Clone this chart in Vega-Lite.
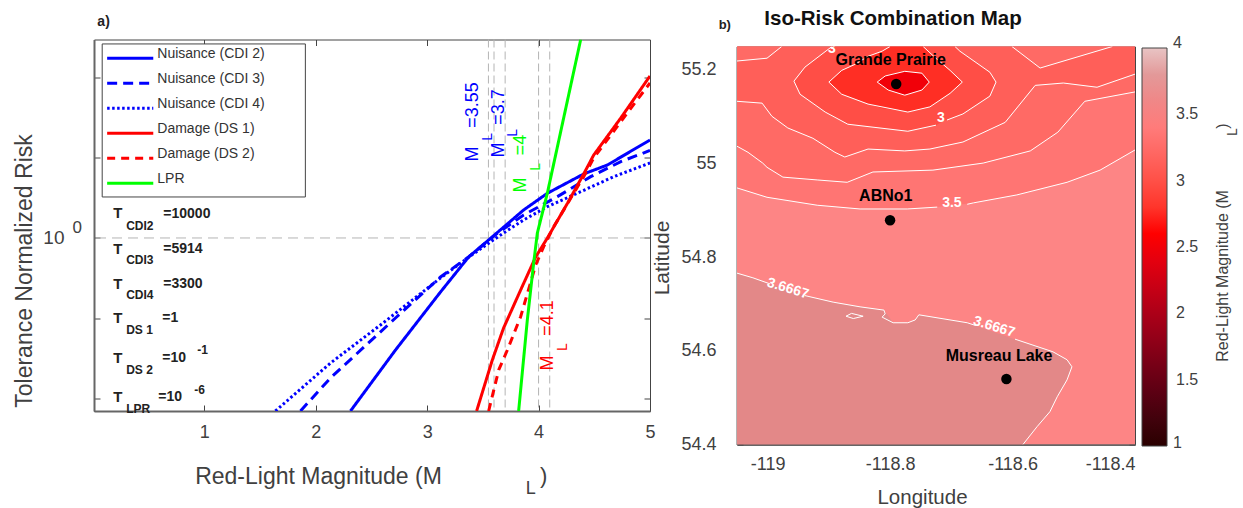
{
"$schema":"https://vega.github.io/schema/vega-lite/v6.json",
"autosize":{"type":"none"},
"padding":{"left":94,"top":39.5,"right":1149,"bottom":468.5},
"background":"white",
"config":{"font":"Liberation Sans","view":{"stroke":"#444444"}},
"bounds":"flush",
"spacing":87,
"hconcat":[
{"width":556,"height":371.5,
 "layer":[
 {"layer":[
  {"data":{"values":[{"m":3.55},{"m":3.6},{"m":3.7},{"m":4},{"m":4.1}]},
   "mark":{"type":"rule","color":"#b4b4b4","strokeDash":[8,4],"strokeWidth":1},
   "encoding":{"x":{"field":"m","type":"quantitative","scale":{"domain":[0.01,5],"nice":false,"zero":false},
     "axis":{"orient":"bottom","values":[1,2,3,4,5],"format":"d","grid":false,"tickSize":-6,"tickColor":"#444444","labelFontSize":18,"labelColor":"#404040","labelPadding":18,"labelFlush":false,"domainColor":"#666666","domainWidth":2,
       "title":"Red-Light Magnitude (M","titleFontSize":23,"titleFontWeight":"normal","titleColor":"#404040","titleX":224,"titleY":65,"titleAlign":"center","titleBaseline":"middle"}}}},
  {"data":{"values":[{"r":1}]},
   "mark":{"type":"rule","color":"#b4b4b4","strokeDash":[10,6],"strokeWidth":1},
   "encoding":{"y":{"field":"r","type":"quantitative","scale":{"type":"log","domain":[0.00701,296],"nice":false},
     "axis":{"orient":"left","values":[0.01,0.1,1,10,100],"labelExpr":"datum.value==1?'10':''","grid":false,"tickSize":-6,"tickColor":"#444444","labelFontSize":19,"labelColor":"#404040","labelPadding":36,"domainColor":"#666666","domainWidth":2,
       "title":"Tolerance Normalized Risk","titleFontSize":23,"titleFontWeight":"normal","titleColor":"#404040","titleX":-70,"titleY":231,"titleAlign":"center","titleBaseline":"middle"}}}},
  {"data":{"values":[
{"series":"Nuisance (CDI 2)","m":2.312,"r":0.00701},{"series":"Nuisance (CDI 2)","m":2.716,"r":0.0403},{"series":"Nuisance (CDI 2)","m":3.12,"r":0.2127},{"series":"Nuisance (CDI 2)","m":3.372,"r":0.58},{"series":"Nuisance (CDI 2)","m":3.597,"r":1.068},{"series":"Nuisance (CDI 2)","m":3.866,"r":2.232},{"series":"Nuisance (CDI 2)","m":4.079,"r":3.603},{"series":"Nuisance (CDI 2)","m":4.405,"r":6.266},{"series":"Nuisance (CDI 2)","m":4.618,"r":8.11},{"series":"Nuisance (CDI 2)","m":5,"r":16.6},
{"series":"Nuisance (CDI 3)","m":1.863,"r":0.00701},{"series":"Nuisance (CDI 3)","m":2.132,"r":0.01806},{"series":"Nuisance (CDI 3)","m":2.716,"r":0.1009},{"series":"Nuisance (CDI 3)","m":3.12,"r":0.327},{"series":"Nuisance (CDI 3)","m":3.372,"r":0.58},{"series":"Nuisance (CDI 3)","m":3.633,"r":1.154},{"series":"Nuisance (CDI 3)","m":3.866,"r":1.934},{"series":"Nuisance (CDI 3)","m":4.169,"r":3.27},{"series":"Nuisance (CDI 3)","m":4.468,"r":5.8},{"series":"Nuisance (CDI 3)","m":4.738,"r":8.92},{"series":"Nuisance (CDI 3)","m":5,"r":12.3},
{"series":"Nuisance (CDI 4)","m":1.638,"r":0.00701},{"series":"Nuisance (CDI 4)","m":2.132,"r":0.0277},{"series":"Nuisance (CDI 4)","m":2.581,"r":0.0825},{"series":"Nuisance (CDI 4)","m":3.12,"r":0.318},{"series":"Nuisance (CDI 4)","m":3.372,"r":0.575},{"series":"Nuisance (CDI 4)","m":3.507,"r":0.779},{"series":"Nuisance (CDI 4)","m":3.686,"r":1.154},{"series":"Nuisance (CDI 4)","m":3.866,"r":1.676},{"series":"Nuisance (CDI 4)","m":4.079,"r":2.453},{"series":"Nuisance (CDI 4)","m":4.378,"r":3.77},{"series":"Nuisance (CDI 4)","m":4.675,"r":5.8},{"series":"Nuisance (CDI 4)","m":5,"r":8.59},
{"series":"Damage (DS 1)","m":3.444,"r":0.00701},{"series":"Damage (DS 1)","m":3.585,"r":0.0303},{"series":"Damage (DS 1)","m":3.686,"r":0.0757},{"series":"Damage (DS 1)","m":3.839,"r":0.225},{"series":"Damage (DS 1)","m":3.974,"r":0.58},{"series":"Damage (DS 1)","m":4.079,"r":1},{"series":"Damage (DS 1)","m":4.261,"r":2.73},{"series":"Damage (DS 1)","m":4.405,"r":6.266},{"series":"Damage (DS 1)","m":4.495,"r":10.8},{"series":"Damage (DS 1)","m":4.738,"r":31.2},{"series":"Damage (DS 1)","m":5,"r":104},
{"series":"Damage (DS 2)","m":3.552,"r":0.00701},{"series":"Damage (DS 2)","m":3.642,"r":0.0227},{"series":"Damage (DS 2)","m":3.72,"r":0.0403},{"series":"Damage (DS 2)","m":3.839,"r":0.1047},{"series":"Damage (DS 2)","m":3.974,"r":0.461},{"series":"Damage (DS 2)","m":4.046,"r":0.779},{"series":"Damage (DS 2)","m":4.136,"r":1.383},{"series":"Damage (DS 2)","m":4.27,"r":2.83},{"series":"Damage (DS 2)","m":4.405,"r":5.8},{"series":"Damage (DS 2)","m":4.495,"r":9.91},{"series":"Damage (DS 2)","m":4.738,"r":28.1},{"series":"Damage (DS 2)","m":5,"r":85.2},
{"series":"LPR","m":3.821,"r":0.00701},{"series":"LPR","m":3.899,"r":0.0953},{"series":"LPR","m":3.956,"r":0.489},{"series":"LPR","m":3.989,"r":1.154},{"series":"LPR","m":4.079,"r":3.63},{"series":"LPR","m":4.378,"r":296}
]},
   "mark":{"type":"line","strokeWidth":3,"clip":true},
   "encoding":{
    "x":{"field":"m","type":"quantitative"},
    "y":{"field":"r","type":"quantitative"},
    "stroke":{"field":"series","type":"nominal","legend":null,"scale":{"domain":["Nuisance (CDI 2)","Nuisance (CDI 3)","Nuisance (CDI 4)","Damage (DS 1)","Damage (DS 2)","LPR"],"range":["#0000ff","#0000ff","#0000ff","#ff0000","#ff0000","#00ff00"]}},
    "strokeDash":{"field":"series","type":"nominal","legend":null,"scale":{"domain":["Nuisance (CDI 2)","Nuisance (CDI 3)","Nuisance (CDI 4)","Damage (DS 1)","Damage (DS 2)","LPR"],"range":[[1,0],[10,6],[2.5,2.5],[1,0],[8,6],[1,0]]}}
   }},
  {"data":{"values":[{"m0":0.0836,"m1":1.907,"r0":260.6,"r1":3.24}]},
   "mark":{"type":"rect","fill":"white","stroke":"#444444","strokeWidth":1},
   "encoding":{"x":{"field":"m0","type":"quantitative"},"x2":{"field":"m1"},"y":{"field":"r0","type":"quantitative"},"y2":{"field":"r1"}}},
  {"data":{"values":[
{"series":"Nuisance (CDI 2)","m":0.128,"r":173},{"series":"Nuisance (CDI 2)","m":0.542,"r":173},
{"series":"Nuisance (CDI 3)","m":0.128,"r":84.4},{"series":"Nuisance (CDI 3)","m":0.542,"r":84.4},
{"series":"Nuisance (CDI 4)","m":0.128,"r":41.2},{"series":"Nuisance (CDI 4)","m":0.542,"r":41.2},
{"series":"Damage (DS 1)","m":0.128,"r":20.1},{"series":"Damage (DS 1)","m":0.542,"r":20.1},
{"series":"Damage (DS 2)","m":0.128,"r":9.83},{"series":"Damage (DS 2)","m":0.542,"r":9.83},
{"series":"LPR","m":0.128,"r":4.8},{"series":"LPR","m":0.542,"r":4.8}
]},
   "mark":{"type":"line","strokeWidth":3},
   "encoding":{"x":{"field":"m","type":"quantitative"},"y":{"field":"r","type":"quantitative"},
    "stroke":{"field":"series","type":"nominal","legend":null},
    "strokeDash":{"field":"series","type":"nominal","legend":null}}},
  {"data":{"values":[{"series":"Nuisance (CDI 2)","m":0.578,"r":194},{"series":"Nuisance (CDI 3)","m":0.578,"r":94.7},{"series":"Nuisance (CDI 4)","m":0.578,"r":46.2},{"series":"Damage (DS 1)","m":0.578,"r":22.6},{"series":"Damage (DS 2)","m":0.578,"r":11},{"series":"LPR","m":0.578,"r":5.38}]},
   "mark":{"type":"text","fontSize":14,"color":"#333333","align":"left","baseline":"middle"},
   "encoding":{"x":{"field":"m","type":"quantitative"},"y":{"field":"r","type":"quantitative"},"text":{"field":"series"}}},
  {"data":{"values":[{"t":"M","m":3.408,"r":11.1},{"t":"=3.55","m":3.408,"r":45.3},{"t":"M","m":3.641,"r":12.5},{"t":"=3.7","m":3.641,"r":42.8}]},
   "mark":{"type":"text","angle":270,"color":"#0000ff","fontSize":18,"align":"center","baseline":"middle"},
   "encoding":{"x":{"field":"m","type":"quantitative"},"y":{"field":"r","type":"quantitative"},"text":{"field":"t"}}},
  {"data":{"values":[{"t":"L","m":3.543,"r":18.1},{"t":"L","m":3.767,"r":20.3}]},
   "mark":{"type":"text","angle":270,"color":"#0000ff","fontSize":14,"align":"center","baseline":"middle"},
   "encoding":{"x":{"field":"m","type":"quantitative"},"y":{"field":"r","type":"quantitative"},"text":{"field":"t"}}},
  {"data":{"values":[{"t":"M","m":3.839,"r":4.57},{"t":"=4","m":3.839,"r":14.4}]},
   "mark":{"type":"text","angle":270,"color":"#00ff00","fontSize":18,"align":"center","baseline":"middle"},
   "encoding":{"x":{"field":"m","type":"quantitative"},"y":{"field":"r","type":"quantitative"},"text":{"field":"t"}}},
  {"data":{"values":[{"t":"L","m":3.974,"r":7.66}]},
   "mark":{"type":"text","angle":270,"color":"#00ff00","fontSize":14,"align":"center","baseline":"middle"},
   "encoding":{"x":{"field":"m","type":"quantitative"},"y":{"field":"r","type":"quantitative"},"text":{"field":"t"}}},
  {"data":{"values":[{"t":"M","m":4.082,"r":0.0277},{"t":"=4.1","m":4.082,"r":0.1009}]},
   "mark":{"type":"text","angle":270,"color":"#ff0000","fontSize":18,"align":"center","baseline":"middle"},
   "encoding":{"x":{"field":"m","type":"quantitative"},"y":{"field":"r","type":"quantitative"},"text":{"field":"t"}}},
  {"data":{"values":[{"t":"L","m":4.217,"r":0.0439}]},
   "mark":{"type":"text","angle":270,"color":"#ff0000","fontSize":14,"align":"center","baseline":"middle"},
   "encoding":{"x":{"field":"m","type":"quantitative"},"y":{"field":"r","type":"quantitative"},"text":{"field":"t"}}},
  {"data":{"values":[{"t":"T","m":0.182,"r":2.05},{"t":"T","m":0.182,"r":0.729},{"t":"T","m":0.182,"r":0.267},{"t":"T","m":0.182,"r":0.1009},{"t":"T","m":0.182,"r":0.0321},{"t":"T","m":0.182,"r":0.01047}]},
   "mark":{"type":"text","fontWeight":"bold","fontSize":15,"color":"#222222","align":"left","baseline":"middle"},
   "encoding":{"x":{"field":"m","type":"quantitative"},"y":{"field":"r","type":"quantitative"},"text":{"field":"t"}}},
  {"data":{"values":[{"t":"CDI2","m":0.299,"r":1.41},{"t":"CDI3","m":0.299,"r":0.532},{"t":"CDI4","m":0.299,"r":0.195},{"t":"DS 1","m":0.299,"r":0.0715},{"t":"DS 2","m":0.299,"r":0.0227},{"t":"LPR","m":0.299,"r":0.00742},{"t":"-1","m":0.937,"r":0.0403},{"t":"-6","m":0.91,"r":0.0128}]},
   "mark":{"type":"text","fontWeight":"bold","fontSize":12,"color":"#222222","align":"left","baseline":"middle"},
   "encoding":{"x":{"field":"m","type":"quantitative"},"y":{"field":"r","type":"quantitative"},"text":{"field":"t"}}},
  {"data":{"values":[{"t":"=10000","m":0.632,"r":1.99},{"t":"=5914","m":0.632,"r":0.729},{"t":"=3300","m":0.632,"r":0.267},{"t":"=1","m":0.623,"r":0.1009},{"t":"=10","m":0.623,"r":0.0321},{"t":"=10","m":0.587,"r":0.01047}]},
   "mark":{"type":"text","fontWeight":"bold","fontSize":14,"color":"#222222","align":"left","baseline":"middle"},
   "encoding":{"x":{"field":"m","type":"quantitative"},"y":{"field":"r","type":"quantitative"},"text":{"field":"t"}}},
  {"data":{"values":[{"t":"a)","m":0.04,"r":490}]},
   "mark":{"type":"text","clip":false,"fontWeight":"bold","fontSize":14,"color":"#222222","align":"left","baseline":"middle"},
   "encoding":{"x":{"field":"m","type":"quantitative"},"y":{"field":"r","type":"quantitative"},"text":{"field":"t"}}},
  {"data":{"values":[{"t":"0","m":-0.141,"r":1.33}]},
   "mark":{"type":"text","fontSize":17,"color":"#404040","align":"center","baseline":"middle"},
   "encoding":{"x":{"field":"m","type":"quantitative"},"y":{"field":"r","type":"quantitative"},"text":{"field":"t"}}},
  {"data":{"values":[{"t":"L","m":3.929,"r":0.000748}]},
   "mark":{"type":"text","fontSize":18,"color":"#404040","align":"center","baseline":"middle"},
   "encoding":{"x":{"field":"m","type":"quantitative"},"y":{"field":"r","type":"quantitative"},"text":{"field":"t"}}},
  {"data":{"values":[{"t":")","m":4.046,"r":0.001086}]},
   "mark":{"type":"text","fontSize":22,"color":"#404040","align":"center","baseline":"middle"},
   "encoding":{"x":{"field":"m","type":"quantitative"},"y":{"field":"r","type":"quantitative"},"text":{"field":"t"}}}
 ]},
 {"data":{"values":[{"m":1,"r":1}]},"mark":{"type":"point","opacity":0},
   "encoding":{
    "x":{"field":"m","type":"quantitative","axis":{"orient":"top","values":[1,2,3,4,5],"labels":false,"title":null,"grid":false,"domain":false,"tickSize":-6,"tickColor":"#444444"}},
    "y":{"field":"r","type":"quantitative","axis":{"orient":"right","values":[0.01,0.1,1,10,100],"labels":false,"title":null,"grid":false,"domain":false,"tickSize":-6,"tickColor":"#444444"}}}}
 ],
 "resolve":{"axis":{"x":"independent","y":"independent"}}
},
{"bounds":"flush","spacing":0,"vconcat":[
 {"width":398,"height":6.5,"view":{"stroke":null},"data":{"values":[{"t":"Iso-Risk Combination Map"}]},
  "mark":{"type":"text","fontWeight":"bold","fontSize":20.5,"color":"#111111","dy":-24,"dx":-43},
  "encoding":{"text":{"field":"t"}}},
 {"width":398,"height":398,
 "layer":[
 {"layer":[
  {"data":{"values":[
{"band":"a","level":3.5,"lon":-119.05,"top":55.25,"bottom":54.4},{"band":"a","level":3.5,"lon":-118.4,"top":55.25,"bottom":54.4},
{"band":"b","level":3.34,"lon":-119.05,"top":55.25,"bottom":54.948},{"band":"b","level":3.34,"lon":-119.001,"top":55.25,"bottom":54.928},{"band":"b","level":3.34,"lon":-118.919,"top":55.25,"bottom":54.911},{"band":"b","level":3.34,"lon":-118.849,"top":55.25,"bottom":54.903},{"band":"b","level":3.34,"lon":-118.772,"top":55.25,"bottom":54.903},{"band":"b","level":3.34,"lon":-118.723,"top":55.25,"bottom":54.907},{"band":"b","level":3.34,"lon":-118.664,"top":55.25,"bottom":54.916},{"band":"b","level":3.34,"lon":-118.593,"top":55.25,"bottom":54.933},{"band":"b","level":3.34,"lon":-118.511,"top":55.25,"bottom":54.96},{"band":"b","level":3.34,"lon":-118.457,"top":55.25,"bottom":54.986},{"band":"b","level":3.34,"lon":-118.4,"top":55.25,"bottom":55.029},
{"band":"c","level":3.7,"lon":-119.05,"top":54.766,"bottom":54.4},{"band":"c","level":3.7,"lon":-119.024,"top":54.756,"bottom":54.4},{"band":"c","level":3.7,"lon":-119.001,"top":54.745,"bottom":54.4},{"band":"c","level":3.7,"lon":-118.931,"top":54.715,"bottom":54.4},{"band":"c","level":3.7,"lon":-118.893,"top":54.704,"bottom":54.4},{"band":"c","level":3.7,"lon":-118.849,"top":54.694,"bottom":54.4},{"band":"c","level":3.7,"lon":-118.81,"top":54.687,"bottom":54.4},{"band":"c","level":3.7,"lon":-118.795,"top":54.66,"bottom":54.4},{"band":"c","level":3.7,"lon":-118.771,"top":54.66,"bottom":54.4},{"band":"c","level":3.7,"lon":-118.759,"top":54.666,"bottom":54.4},{"band":"c","level":3.7,"lon":-118.753,"top":54.677,"bottom":54.4},{"band":"c","level":3.7,"lon":-118.674,"top":54.66,"bottom":54.4},{"band":"c","level":3.7,"lon":-118.593,"top":54.623,"bottom":54.4},{"band":"c","level":3.7,"lon":-118.583,"top":54.619,"bottom":54.4},{"band":"c","level":3.7,"lon":-118.56,"top":54.611,"bottom":54.438},{"band":"c","level":3.7,"lon":-118.539,"top":54.6,"bottom":54.47},{"band":"c","level":3.7,"lon":-118.534,"top":54.598,"bottom":54.485},{"band":"c","level":3.7,"lon":-118.527,"top":54.593,"bottom":54.502},{"band":"c","level":3.7,"lon":-118.511,"top":54.581,"bottom":54.538},{"band":"c","level":3.7,"lon":-118.503,"top":54.566,"bottom":54.566},
{"band":"d","level":3.23,"lon":-119.05,"top":55.25,"bottom":55.037},{"band":"d","level":3.23,"lon":-119.032,"top":55.25,"bottom":55.024},{"band":"d","level":3.23,"lon":-119.008,"top":55.25,"bottom":55.001},{"band":"d","level":3.23,"lon":-119.001,"top":55.25,"bottom":54.992},{"band":"d","level":3.23,"lon":-118.975,"top":55.25,"bottom":54.971},{"band":"d","level":3.23,"lon":-118.919,"top":55.25,"bottom":54.965},{"band":"d","level":3.23,"lon":-118.87,"top":55.25,"bottom":54.96},{"band":"d","level":3.23,"lon":-118.828,"top":55.25,"bottom":54.982},{"band":"d","level":3.23,"lon":-118.73,"top":55.25,"bottom":54.986},{"band":"d","level":3.23,"lon":-118.648,"top":55.25,"bottom":55.001},{"band":"d","level":3.23,"lon":-118.571,"top":55.25,"bottom":55.027},{"band":"d","level":3.23,"lon":-118.526,"top":55.25,"bottom":55.067},{"band":"d","level":3.23,"lon":-118.482,"top":55.25,"bottom":55.133},{"band":"d","level":3.23,"lon":-118.4,"top":55.25,"bottom":55.153},
{"band":"e","level":3.13,"lon":-119.05,"top":55.25,"bottom":55.133},{"band":"e","level":3.13,"lon":-119.009,"top":55.25,"bottom":55.129},{"band":"e","level":3.13,"lon":-118.993,"top":55.25,"bottom":55.101},{"band":"e","level":3.13,"lon":-118.967,"top":55.25,"bottom":55.076},{"band":"e","level":3.13,"lon":-118.926,"top":55.25,"bottom":55.054},{"band":"e","level":3.13,"lon":-118.89,"top":55.25,"bottom":55.024},{"band":"e","level":3.13,"lon":-118.874,"top":55.25,"bottom":55.014},{"band":"e","level":3.13,"lon":-118.836,"top":55.25,"bottom":55.031},{"band":"e","level":3.13,"lon":-118.776,"top":55.25,"bottom":55.027},{"band":"e","level":3.13,"lon":-118.735,"top":55.25,"bottom":55.031},{"band":"e","level":3.13,"lon":-118.681,"top":55.25,"bottom":55.046},{"band":"e","level":3.13,"lon":-118.612,"top":55.25,"bottom":55.088},{"band":"e","level":3.13,"lon":-118.563,"top":55.25,"bottom":55.167},{"band":"e","level":3.13,"lon":-118.517,"top":55.25,"bottom":55.172},{"band":"e","level":3.13,"lon":-118.462,"top":55.25,"bottom":55.163},{"band":"e","level":3.13,"lon":-118.4,"top":55.25,"bottom":55.191},
{"band":"f","level":3.23,"lon":-119.05,"top":55.25,"bottom":55.219},{"band":"f","level":3.23,"lon":-119.001,"top":55.25,"bottom":55.225},{"band":"f","level":3.23,"lon":-118.977,"top":55.25,"bottom":55.25},
{"band":"g","level":3.23,"lon":-118.601,"top":55.25,"bottom":55.25},{"band":"g","level":3.23,"lon":-118.555,"top":55.25,"bottom":55.204},{"band":"g","level":3.23,"lon":-118.437,"top":55.25,"bottom":55.25},
{"band":"h","level":2.99,"lon":-118.957,"top":55.176,"bottom":55.176},{"band":"h","level":2.99,"lon":-118.947,"top":55.191,"bottom":55.148},{"band":"h","level":2.99,"lon":-118.939,"top":55.206,"bottom":55.14},{"band":"h","level":2.99,"lon":-118.906,"top":55.238,"bottom":55.11},{"band":"h","level":2.99,"lon":-118.895,"top":55.25,"bottom":55.101},{"band":"h","level":2.99,"lon":-118.869,"top":55.25,"bottom":55.084},{"band":"h","level":2.99,"lon":-118.771,"top":55.25,"bottom":55.069},{"band":"h","level":2.99,"lon":-118.727,"top":55.25,"bottom":55.08},{"band":"h","level":2.99,"lon":-118.713,"top":55.25,"bottom":55.091},{"band":"h","level":2.99,"lon":-118.694,"top":55.25,"bottom":55.099},{"band":"h","level":2.99,"lon":-118.686,"top":55.24,"bottom":55.103},{"band":"h","level":2.99,"lon":-118.681,"top":55.236,"bottom":55.106},{"band":"h","level":2.99,"lon":-118.637,"top":55.195,"bottom":55.144},{"band":"h","level":2.99,"lon":-118.627,"top":55.174,"bottom":55.174},
{"band":"i","level":2.76,"lon":-118.9,"top":55.174,"bottom":55.174},{"band":"i","level":2.76,"lon":-118.879,"top":55.199,"bottom":55.148},{"band":"i","level":2.76,"lon":-118.857,"top":55.212,"bottom":55.138},{"band":"i","level":2.76,"lon":-118.836,"top":55.229,"bottom":55.127},{"band":"i","level":2.76,"lon":-118.813,"top":55.24,"bottom":55.118},{"band":"i","level":2.76,"lon":-118.8,"top":55.25,"bottom":55.116},{"band":"i","level":2.76,"lon":-118.771,"top":55.25,"bottom":55.11},{"band":"i","level":2.76,"lon":-118.746,"top":55.25,"bottom":55.116},{"band":"i","level":2.76,"lon":-118.735,"top":55.238,"bottom":55.121},{"band":"i","level":2.76,"lon":-118.727,"top":55.227,"bottom":55.127},{"band":"i","level":2.76,"lon":-118.702,"top":55.199,"bottom":55.15},{"band":"i","level":2.76,"lon":-118.682,"top":55.174,"bottom":55.174},
{"band":"j","level":2.5,"lon":-118.821,"top":55.174,"bottom":55.174},{"band":"j","level":2.5,"lon":-118.808,"top":55.187,"bottom":55.161},{"band":"j","level":2.5,"lon":-118.803,"top":55.189,"bottom":55.157},{"band":"j","level":2.5,"lon":-118.776,"top":55.197,"bottom":55.146},{"band":"j","level":2.5,"lon":-118.748,"top":55.193,"bottom":55.157},{"band":"j","level":2.5,"lon":-118.736,"top":55.174,"bottom":55.174}
]},
   "mark":{"type":"area","clip":true,"opacity":1},
   "encoding":{
    "x":{"field":"lon","type":"quantitative","scale":{"domain":[-119.05,-118.4],"nice":false,"zero":false},
      "axis":{"orient":"bottom","values":[-119,-118.8,-118.6,-118.4],"labelExpr":"toString(datum.value)","grid":false,"tickSize":-6,"tickColor":"#444444","labelFontSize":18,"labelColor":"#404040","labelPadding":17,"domainColor":"#666666","domainWidth":2,"title":"Longitude","titleFontSize":20.5,"titleFontWeight":"normal","titleColor":"#404040","titleX":185,"titleY":53,"titleAlign":"center","titleBaseline":"middle"}},
    "y":{"field":"top","type":"quantitative","scale":{"domain":[54.4,55.25],"nice":false,"zero":false},
      "axis":{"orient":"left","values":[54.4,54.6,54.8,55,55.2],"labelExpr":"toString(datum.value)","grid":false,"tickSize":-6,"tickColor":"#444444","labelFontSize":18,"labelColor":"#404040","labelPadding":27,"domainColor":"#666666","domainWidth":2,"title":"Latitude","titleFontSize":21,"titleFontWeight":"normal","titleColor":"#404040","titleX":-75,"titleY":211,"titleAlign":"center","titleBaseline":"middle"}},
    "y2":{"field":"bottom"},
    "detail":{"field":"band"},
    "fill":{"field":"level","type":"quantitative","scale":{"domain":[1,2.6,3.5,3.72,4],"range":["#2a0000","#ff0000","#fd8585","#e08888","#e8c4c4"]},
      "legend":{"orient":"none","legendX":1048,"legendY":8.5,"title":null,"type":"gradient","gradientLength":398,"gradientThickness":25,"gradientStrokeColor":"#444444","gradientStrokeWidth":1,"values":[1.5,2,2.5,3,3.5],"labelExpr":"toString(datum.value)","labelFontSize":16,"labelColor":"#404040","labelOverlap":false,"labelOffset":9}}
   }},
  {"data":{"values":[
{"c":"1a","o":1,"lon":-119.05,"lat":54.948},{"c":"1a","o":2,"lon":-119.001,"lat":54.928},{"c":"1a","o":3,"lon":-118.919,"lat":54.911},{"c":"1a","o":4,"lon":-118.849,"lat":54.903},{"c":"1a","o":5,"lon":-118.772,"lat":54.903},{"c":"1a","o":6,"lon":-118.723,"lat":54.907},
{"c":"1b","o":1,"lon":-118.674,"lat":54.913},{"c":"1b","o":2,"lon":-118.664,"lat":54.916},{"c":"1b","o":3,"lon":-118.593,"lat":54.933},{"c":"1b","o":4,"lon":-118.511,"lat":54.96},{"c":"1b","o":5,"lon":-118.457,"lat":54.986},{"c":"1b","o":6,"lon":-118.4,"lat":55.029},
{"c":"2","o":1,"lon":-119.05,"lat":55.037},{"c":"2","o":2,"lon":-119.032,"lat":55.024},{"c":"2","o":3,"lon":-119.008,"lat":55.001},{"c":"2","o":4,"lon":-119.001,"lat":54.992},{"c":"2","o":5,"lon":-118.975,"lat":54.971},{"c":"2","o":6,"lon":-118.919,"lat":54.965},{"c":"2","o":7,"lon":-118.87,"lat":54.96},{"c":"2","o":8,"lon":-118.828,"lat":54.982},{"c":"2","o":9,"lon":-118.73,"lat":54.986},{"c":"2","o":10,"lon":-118.648,"lat":55.001},{"c":"2","o":11,"lon":-118.571,"lat":55.027},{"c":"2","o":12,"lon":-118.526,"lat":55.067},{"c":"2","o":13,"lon":-118.482,"lat":55.133},{"c":"2","o":14,"lon":-118.4,"lat":55.153},
{"c":"3","o":1,"lon":-119.05,"lat":55.133},{"c":"3","o":2,"lon":-119.009,"lat":55.129},{"c":"3","o":3,"lon":-118.993,"lat":55.101},{"c":"3","o":4,"lon":-118.967,"lat":55.076},{"c":"3","o":5,"lon":-118.926,"lat":55.054},{"c":"3","o":6,"lon":-118.89,"lat":55.024},{"c":"3","o":7,"lon":-118.874,"lat":55.014},{"c":"3","o":8,"lon":-118.836,"lat":55.031},{"c":"3","o":9,"lon":-118.776,"lat":55.027},{"c":"3","o":10,"lon":-118.735,"lat":55.031},{"c":"3","o":11,"lon":-118.681,"lat":55.046},{"c":"3","o":12,"lon":-118.612,"lat":55.088},{"c":"3","o":13,"lon":-118.563,"lat":55.167},{"c":"3","o":14,"lon":-118.517,"lat":55.172},{"c":"3","o":15,"lon":-118.462,"lat":55.163},{"c":"3","o":16,"lon":-118.4,"lat":55.191},
{"c":"3tl","o":1,"lon":-119.05,"lat":55.219},{"c":"3tl","o":2,"lon":-119.001,"lat":55.225},{"c":"3tl","o":3,"lon":-118.977,"lat":55.25},
{"c":"3tr","o":1,"lon":-118.601,"lat":55.25},{"c":"3tr","o":2,"lon":-118.555,"lat":55.204},{"c":"3tr","o":3,"lon":-118.437,"lat":55.25},
{"c":"4a","o":1,"lon":-118.895,"lat":55.25},{"c":"4a","o":2,"lon":-118.939,"lat":55.206},{"c":"4a","o":3,"lon":-118.957,"lat":55.176},{"c":"4a","o":4,"lon":-118.947,"lat":55.148},{"c":"4a","o":5,"lon":-118.906,"lat":55.11},{"c":"4a","o":6,"lon":-118.869,"lat":55.084},{"c":"4a","o":7,"lon":-118.771,"lat":55.069},{"c":"4a","o":8,"lon":-118.725,"lat":55.082},
{"c":"4b","o":1,"lon":-118.707,"lat":55.093},{"c":"4b","o":2,"lon":-118.681,"lat":55.106},{"c":"4b","o":3,"lon":-118.637,"lat":55.144},{"c":"4b","o":4,"lon":-118.627,"lat":55.174},{"c":"4b","o":5,"lon":-118.637,"lat":55.195},{"c":"4b","o":6,"lon":-118.686,"lat":55.24},{"c":"4b","o":7,"lon":-118.694,"lat":55.25},
{"c":"5","o":1,"lon":-118.8,"lat":55.25},{"c":"5","o":2,"lon":-118.813,"lat":55.24},{"c":"5","o":3,"lon":-118.836,"lat":55.229},{"c":"5","o":4,"lon":-118.857,"lat":55.212},{"c":"5","o":5,"lon":-118.879,"lat":55.199},{"c":"5","o":6,"lon":-118.9,"lat":55.174},{"c":"5","o":7,"lon":-118.879,"lat":55.148},{"c":"5","o":8,"lon":-118.836,"lat":55.127},{"c":"5","o":9,"lon":-118.771,"lat":55.11},{"c":"5","o":10,"lon":-118.735,"lat":55.121},{"c":"5","o":11,"lon":-118.702,"lat":55.15},{"c":"5","o":12,"lon":-118.682,"lat":55.174},{"c":"5","o":13,"lon":-118.702,"lat":55.199},{"c":"5","o":14,"lon":-118.727,"lat":55.227},{"c":"5","o":15,"lon":-118.746,"lat":55.25},
{"c":"6","o":1,"lon":-118.821,"lat":55.174},{"c":"6","o":2,"lon":-118.808,"lat":55.187},{"c":"6","o":3,"lon":-118.776,"lat":55.197},{"c":"6","o":4,"lon":-118.748,"lat":55.193},{"c":"6","o":5,"lon":-118.736,"lat":55.174},{"c":"6","o":6,"lon":-118.748,"lat":55.157},{"c":"6","o":7,"lon":-118.776,"lat":55.146},{"c":"6","o":8,"lon":-118.803,"lat":55.157},{"c":"6","o":9,"lon":-118.821,"lat":55.174},
{"c":"7a","o":1,"lon":-119.05,"lat":54.766},{"c":"7a","o":2,"lon":-119.024,"lat":54.756},{"c":"7a","o":3,"lon":-118.996,"lat":54.743},
{"c":"7b","o":1,"lon":-118.939,"lat":54.718},{"c":"7b","o":2,"lon":-118.893,"lat":54.704},{"c":"7b","o":3,"lon":-118.849,"lat":54.694},{"c":"7b","o":4,"lon":-118.81,"lat":54.687},{"c":"7b","o":5,"lon":-118.808,"lat":54.679},{"c":"7b","o":6,"lon":-118.813,"lat":54.672},{"c":"7b","o":7,"lon":-118.795,"lat":54.66},{"c":"7b","o":8,"lon":-118.771,"lat":54.66},{"c":"7b","o":9,"lon":-118.759,"lat":54.666},{"c":"7b","o":10,"lon":-118.753,"lat":54.677},{"c":"7b","o":11,"lon":-118.674,"lat":54.66},{"c":"7b","o":12,"lon":-118.66,"lat":54.654},
{"c":"7c","o":1,"lon":-118.596,"lat":54.625},{"c":"7c","o":2,"lon":-118.534,"lat":54.598},{"c":"7c","o":3,"lon":-118.511,"lat":54.581},{"c":"7c","o":4,"lon":-118.503,"lat":54.566},{"c":"7c","o":5,"lon":-118.511,"lat":54.538},{"c":"7c","o":6,"lon":-118.527,"lat":54.502},{"c":"7c","o":7,"lon":-118.539,"lat":54.47},{"c":"7c","o":8,"lon":-118.56,"lat":54.438},{"c":"7c","o":9,"lon":-118.583,"lat":54.4},
{"c":"8","o":1,"lon":-118.872,"lat":54.674},{"c":"8","o":2,"lon":-118.863,"lat":54.68},{"c":"8","o":3,"lon":-118.844,"lat":54.674},{"c":"8","o":4,"lon":-118.86,"lat":54.669},{"c":"8","o":5,"lon":-118.872,"lat":54.674}
]},
   "mark":{"type":"line","stroke":"white","strokeWidth":1,"clip":true},
   "encoding":{"x":{"field":"lon","type":"quantitative"},"y":{"field":"lat","type":"quantitative"},"detail":{"field":"c"},"order":{"field":"o","type":"quantitative"}}},
  {"data":{"values":[{"t":"3.5","lon":-118.699,"lat":54.916},{"t":"3","lon":-118.717,"lat":55.098},{"t":"3","lon":-118.895,"lat":55.245}]},
   "mark":{"type":"text","color":"white","fontWeight":"bold","fontSize":14,"clip":true},
   "encoding":{"x":{"field":"lon","type":"quantitative"},"y":{"field":"lat","type":"quantitative"},"text":{"field":"t"}}},
  {"data":{"values":[{"t":"3.6667","lon":-118.967,"lat":54.733},{"t":"3.6667","lon":-118.63,"lat":54.651}]},
   "mark":{"type":"text","color":"white","fontWeight":"bold","fontSize":14,"angle":17},
   "encoding":{"x":{"field":"lon","type":"quantitative"},"y":{"field":"lat","type":"quantitative"},"text":{"field":"t"}}},
  {"data":{"values":[{"name":"Grande Prairie","lon":-118.79,"lat":55.17},{"name":"ABNo1","lon":-118.8,"lat":54.879},{"name":"Musreau Lake","lon":-118.61,"lat":54.54}]},
   "mark":{"type":"point","filled":true,"color":"black","size":110,"opacity":1},
   "encoding":{"x":{"field":"lon","type":"quantitative"},"y":{"field":"lat","type":"quantitative"}}},
  {"data":{"values":[{"name":"Grande Prairie","lon":-118.799,"lat":55.221},{"name":"ABNo1","lon":-118.807,"lat":54.931},{"name":"Musreau Lake","lon":-118.622,"lat":54.59}]},
   "mark":{"type":"text","color":"black","fontWeight":"bold","fontSize":16},
   "encoding":{"x":{"field":"lon","type":"quantitative"},"y":{"field":"lat","type":"quantitative"},"text":{"field":"name"}}},
  {"data":{"values":[{"t":"b)","lon":-119.08,"lat":55.295}]},
   "mark":{"type":"text","fontWeight":"bold","fontSize":13,"color":"#222222","align":"left"},
   "encoding":{"x":{"field":"lon","type":"quantitative"},"y":{"field":"lat","type":"quantitative"},"text":{"field":"t"}}},
  {"data":{"values":[{"t":"Red-Light Magnitude (M","lon":-118.257,"lat":54.76},{"t":")","lon":-118.257,"lat":55.08}]},
   "mark":{"type":"text","fontSize":16,"color":"#404040","angle":270},
   "encoding":{"x":{"field":"lon","type":"quantitative"},"y":{"field":"lat","type":"quantitative"},"text":{"field":"t"}}},
  {"data":{"values":[{"t":"L","lon":-118.24,"lat":55.067}]},
   "mark":{"type":"text","fontSize":14,"color":"#404040","angle":270},
   "encoding":{"x":{"field":"lon","type":"quantitative"},"y":{"field":"lat","type":"quantitative"},"text":{"field":"t"}}},
  {"data":{"values":[{"t":"1","lon":-118.338,"lat":54.404},{"t":"4","lon":-118.338,"lat":55.257}]},
   "mark":{"type":"text","fontSize":16,"color":"#404040","align":"left"},
   "encoding":{"x":{"field":"lon","type":"quantitative"},"y":{"field":"lat","type":"quantitative"},"text":{"field":"t"}}}
 ]},
 {"data":{"values":[{"lon":-118.8,"lat":54.4}]},"mark":{"type":"point","opacity":0},
   "encoding":{
    "x":{"field":"lon","type":"quantitative","axis":{"orient":"top","values":[-119,-118.8,-118.6,-118.4],"labels":false,"title":null,"grid":false,"domain":false,"tickSize":-6,"tickColor":"#444444"}},
    "y":{"field":"lat","type":"quantitative","axis":{"orient":"right","values":[54.4,54.6,54.8,55,55.2],"labels":false,"title":null,"grid":false,"domain":false,"tickSize":-6,"tickColor":"#444444"}}}}
 ],
 "resolve":{"axis":{"x":"independent","y":"independent"}}
 }
]}
]
}
